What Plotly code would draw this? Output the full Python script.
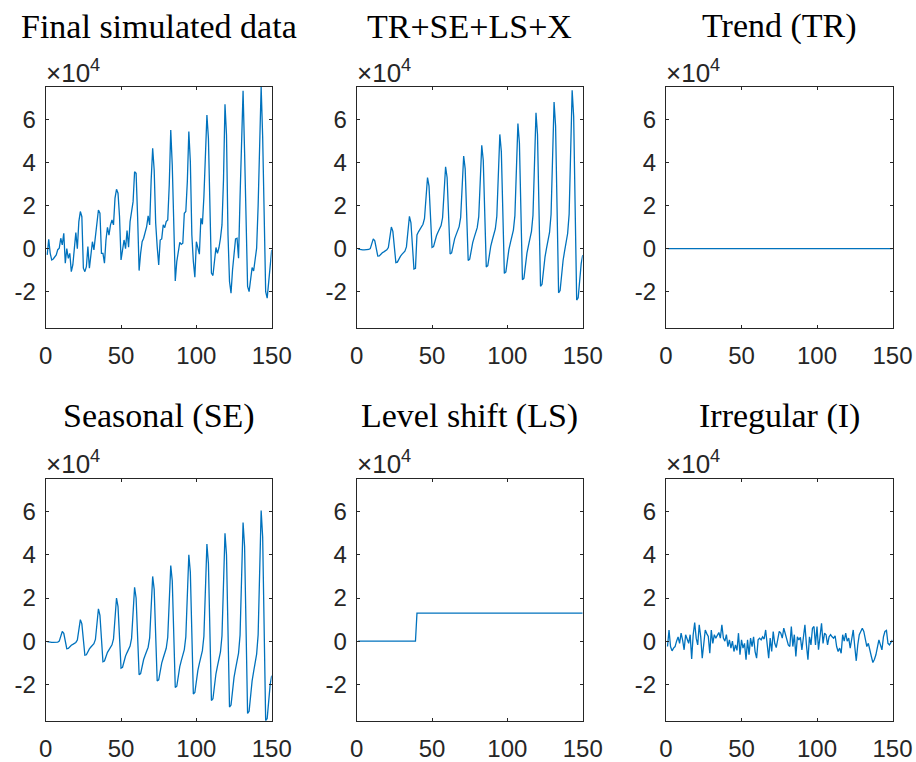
import plotly.graph_objects as go

# ---------------- data (values in units of 10^4) ----------------
x_index = list(range(1, 151))

final_data = [
    -0.29, 0.43, -0.22, -0.53, -0.48, -0.40, -0.29, -0.05, 0.02, 0.48,
    0.17, 0.71, -0.68, 0.00, -0.45, -0.22, -1.07, -0.76, 0.09, 0.74,
    0.00, 1.25, 1.72, 1.48, -0.91, -1.07, -0.84, 0.09, -0.91, -0.37,
    0.32, -0.06, 0.63, 1.25, 1.79, 1.64, -0.22, -0.22, -0.68, 0.40,
    0.99, 0.63, 1.10, 1.33, 1.10, 2.34, 2.75, 2.57, 1.48, -0.53,
    -0.06, 0.40, 0.00, 0.84, 0.06, 1.25, 1.72, 2.18, 3.57, 3.50,
    1.48, -1.02, -0.22, 0.32, 0.48, 0.71, 1.02, 1.52, 1.10, 3.19,
    4.66, 3.65, 1.18, 0.09, -0.76, 0.40, 0.45, 1.10, 0.97, 1.25,
    1.33, 2.95, 5.50, 3.88, 0.63, -1.50, -0.60, -0.14, 0.29, 0.20,
    0.25, 1.64, 1.72, 3.11, 5.43, 4.04, 0.63, -0.60, -1.33, 0.32,
    0.09, -0.26, 1.41, 1.13, 2.41, 4.04, 6.20, 5.12, 1.41, -1.14,
    -1.25, -0.60, 0.05, -0.22, 0.05, 0.48, 1.10, 3.19, 6.70, 5.27,
    0.63, -1.53, -2.07, -0.99, -0.29, 0.45, 0.48, -0.45, 2.41, 4.50,
    7.32, 4.50, 0.63, -1.76, -2.00, -1.30, -0.88, -1.04, -0.45, 0.02,
    2.00, 4.80, 7.51, 5.20, 0.50, -2.00, -2.30, -1.45, -1.00, -0.06,
]

tr_se_ls_x = [
    -0.02, -0.04, -0.05, -0.06, -0.06, -0.06, -0.05, -0.04, 0.00, 0.20,
    0.45, 0.36, 0.00, -0.35, -0.34, -0.25, -0.19, -0.15, -0.10, -0.06,
    0.05, 0.45, 1.00, 0.80, 0.08, -0.65, -0.63, -0.46, -0.36, -0.27,
    -0.20, -0.12, 0.08, 0.68, 1.50, 1.20, 0.13, -0.95, -0.92, 0.63,
    0.78, 0.90, 1.01, 1.13, 1.40, 2.20, 3.30, 2.90, 1.48, 0.05,
    0.09, 0.42, 0.61, 0.77, 0.92, 1.07, 1.43, 2.43, 3.80, 3.30,
    1.53, -0.25, -0.20, 0.21, 0.45, 0.65, 0.83, 1.02, 1.45, 2.65,
    4.30, 3.70, 1.58, -0.55, -0.49, 0.00, 0.28, 0.52, 0.74, 0.97,
    1.48, 2.88, 4.80, 4.10, 1.63, -0.85, -0.79, -0.21, 0.12, 0.40,
    0.65, 0.91, 1.50, 3.10, 5.30, 4.50, 1.68, -1.15, -1.08, -0.42,
    -0.05, 0.27, 0.56, 0.86, 1.53, 3.33, 5.80, 4.90, 1.73, -1.45,
    -1.37, -0.63, -0.21, 0.14, 0.47, 0.80, 1.55, 3.55, 6.30, 5.30,
    1.78, -1.75, -1.66, -0.84, -0.38, 0.02, 0.38, 0.75, 1.58, 3.78,
    6.80, 5.70, 1.83, -2.05, -1.95, -1.05, -0.54, -0.11, 0.29, 0.70,
    1.60, 4.02, 7.35, 6.14, 1.88, -2.39, -2.28, -1.30, -0.70, -0.30,
]

trend = [0.0] * 150

seasonal = [
    -0.02, -0.04, -0.05, -0.06, -0.06, -0.06, -0.05, -0.04, 0.00, 0.20,
    0.45, 0.36, 0.00, -0.35, -0.34, -0.25, -0.19, -0.15, -0.10, -0.06,
    0.05, 0.45, 1.00, 0.80, 0.08, -0.65, -0.63, -0.46, -0.36, -0.27,
    -0.20, -0.12, 0.08, 0.68, 1.50, 1.20, 0.13, -0.95, -0.92, -0.67,
    -0.52, -0.40, -0.29, -0.17, 0.10, 0.90, 2.00, 1.60, 0.18, -1.25,
    -1.21, -0.88, -0.69, -0.53, -0.38, -0.23, 0.13, 1.13, 2.50, 2.00,
    0.23, -1.55, -1.50, -1.09, -0.85, -0.65, -0.47, -0.28, 0.15, 1.35,
    3.00, 2.40, 0.28, -1.85, -1.79, -1.30, -1.02, -0.78, -0.56, -0.33,
    0.18, 1.58, 3.50, 2.80, 0.33, -2.15, -2.09, -1.51, -1.18, -0.90,
    -0.65, -0.39, 0.20, 1.80, 4.00, 3.20, 0.38, -2.45, -2.38, -1.72,
    -1.35, -1.03, -0.74, -0.44, 0.23, 2.03, 4.50, 3.60, 0.43, -2.75,
    -2.67, -1.93, -1.51, -1.16, -0.83, -0.50, 0.25, 2.25, 5.00, 4.00,
    0.48, -3.05, -2.96, -2.14, -1.68, -1.28, -0.92, -0.55, 0.28, 2.48,
    5.50, 4.40, 0.53, -3.35, -3.25, -2.35, -1.84, -1.41, -1.01, -0.60,
    0.30, 2.72, 6.05, 4.84, 0.58, -3.69, -3.58, -2.60, -2.00, -1.60,
]

level_shift = [0.0] * 39 + [1.3] * 111

irregular = [
    -0.25, 0.52, -0.25, -0.45, -0.32, -0.25, 0.00, 0.20, -0.10, 0.37,
    0.05, -0.40, 0.30, 0.06, -0.10, 0.30, -0.83, 0.30, 0.86, 0.14,
    -0.17, 0.76, 0.20, -0.79, -0.17, 0.52, 0.35, 0.22, -0.56, 0.52,
    -0.10, 0.30, 0.14, 0.30, 0.40, 0.14, 0.76, 0.14, 0.00, 0.30,
    -0.25, 0.06, -0.32, 0.00, -0.48, -0.17, -0.43, 0.37, -0.63, 0.06,
    -0.32, -0.10, -0.86, 0.06, -0.63, 0.14, -0.25, 0.20, -0.48, -0.79,
    0.06, 0.14, 0.06, 0.20, 0.10, 0.52, -0.25, -0.79, 0.14, -0.48,
    0.45, -0.10, -0.30, 0.20, 0.45, 0.37, 0.14, 0.60, 0.30, 0.06,
    -0.17, -0.25, 0.68, -0.25, 0.30, -0.71, 0.20, 0.06, 0.18, -0.40,
    0.14, 0.76, -0.17, -0.86, 0.20, -0.17, 0.60, 0.68, -0.17, 0.68,
    -0.40, 0.20, 0.83, -0.10, 0.37, 0.30, -0.17, 0.20, 0.30, 0.20,
    0.14, 0.25, -0.25, -0.48, -0.32, -0.56, 0.30, 0.00, 0.37, 0.00,
    0.14, -0.32, 0.06, 0.52, -0.25, -0.91, -0.17, 0.30, 0.45, 0.60,
    0.45, 0.00, -0.25, -0.10, -0.35, -0.71, -0.99, -0.85, -0.63, -0.25,
    0.06, -0.17, -0.40, 0.20, 0.45, 0.50, -0.10, -0.17, -0.05, 0.06,
]

panel_titles = ["Final simulated data", "TR+SE+LS+X", "Trend (TR)",
                "Seasonal (SE)", "Level shift (LS)", "Irregular (I)"]
series = [final_data, tr_se_ls_x, trend, seasonal, level_shift, irregular]

x_ticks = [0, 50, 100, 150]
y_ticks = [-2, 0, 2, 4, 6]
y_tick_text = ["-2", "0", "2", "4", "6"]

# ---------------- layout ----------------
W, H = 916, 762
col_px = [(45.7, 271.7), (356.7, 582.7), (666.0, 892.5)]
row_px = [(86.8, 328.1), (479.1, 720.8)]
title_y_px = [26, 416]
scale_y_px = [71, 462]

all_vals = [v for s in series for v in s]
y_range = [min(all_vals), max(all_vals)]

LINE_BLUE = "#0072BD"
AX = "#262626"
SANS = "Liberation Sans, Arial, sans-serif"

fig = go.Figure()
annotations = []
for i, (title, ys) in enumerate(zip(panel_titles, series)):
    r, c = divmod(i, 3)
    n = i + 1
    xa = "x" if n == 1 else f"x{n}"
    ya = "y" if n == 1 else f"y{n}"
    fig.add_trace(go.Scatter(x=x_index, y=ys, mode="lines",
                             line=dict(color=LINE_BLUE, width=1.3),
                             xaxis=xa, yaxis=ya, showlegend=False,
                             hoverinfo="skip"))
    x0, x1 = col_px[c]
    top, bot = row_px[r]
    common = dict(showline=True, linecolor=AX, linewidth=1, mirror="ticks",
                  ticks="inside", ticklen=3, tickwidth=1, tickcolor=AX,
                  showgrid=False, zeroline=False, automargin=False,
                  tickfont=dict(family=SANS, size=24, color=AX))
    fig.layout[("xaxis" if n == 1 else f"xaxis{n}")] = dict(
        domain=[x0 / W, x1 / W], anchor=ya, range=[0, 150],
        tickvals=x_ticks, ticktext=[str(t) for t in x_ticks],
        ticklabelstandoff=6, **common)
    fig.layout[("yaxis" if n == 1 else f"yaxis{n}")] = dict(
        domain=[1 - bot / H, 1 - top / H], anchor=xa, range=y_range,
        tickvals=y_ticks, ticktext=y_tick_text,
        ticklabelstandoff=4, **common)
    annotations.append(dict(
        text=title, xref="paper", yref="paper",
        x=(x0 + x1) / 2 / W, y=1 - title_y_px[r] / H,
        xanchor="center", yanchor="middle", showarrow=False,
        font=dict(family="Liberation Serif, Times New Roman, serif",
                  size=34, color="#000000")))
    annotations.append(dict(
        text="\u00d710<sup>4</sup>", xref="paper", yref="paper",
        x=(x0 - 2) / W, y=1 - scale_y_px[r] / H,
        xanchor="left", yanchor="middle", showarrow=False,
        font=dict(family=SANS, size=26, color=AX)))

fig.update_layout(width=W, height=H, margin=dict(l=0, r=0, t=0, b=0),
                  paper_bgcolor="white", plot_bgcolor="white",
                  annotations=annotations)

fig.write_html("out.html",
               config={"displayModeBar": False, "staticPlot": True},
               post_script="document.body.style.margin='0';"
                           "document.body.style.overflow='hidden';")
